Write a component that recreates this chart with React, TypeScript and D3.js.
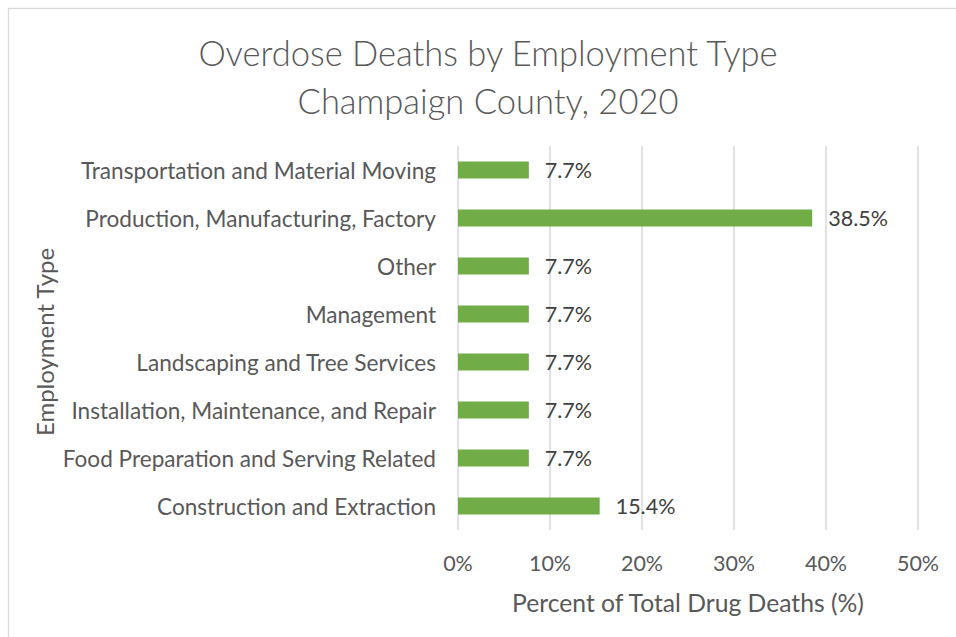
import React from "react";
import * as d3 from "d3";

const categories = [
  "Transportation and Material Moving",
  "Production, Manufacturing, Factory",
  "Other",
  "Management",
  "Landscaping and Tree Services",
  "Installation, Maintenance, and Repair",
  "Food Preparation and Serving Related",
  "Construction and Extraction",
];
const values = [7.7, 38.5, 7.7, 7.7, 7.7, 7.7, 7.7, 15.4];
const xTicks = [0, 10, 20, 30, 40, 50];
const titleLines = ["Overdose Deaths by Employment Type", "Champaign County, 2020"];

const W = 956;
const H = 637;
const FONT = "Lato, Carlito, 'Open Sans', sans-serif";

export default function App() {
  const x = d3.scaleLinear().domain([0, 50]).range([458, 918]);
  const y = d3
    .scaleBand<string>()
    .domain(categories)
    .range([146, 530])
    .paddingInner(0.646)
    .paddingOuter(0.323);

  return (
    <svg
      width={W}
      height={H}
      style={{ position: "absolute", left: 0, top: 0, background: "#fff" }}
      fontFamily={FONT}
    >
      <rect x={8.5} y={8.5} width={W + 20} height={H + 20} fill="#fff" stroke="#D9D9D9" strokeWidth={1.3} />
      {titleLines.map((t, i) => (
        <text
          key={i}
          x={488}
          y={52 + i * 48}
          textAnchor="middle"
          dominantBaseline="central"
          fontSize={34.5}
          fontWeight={300}
          fill="#595959"
        >
          {t}
        </text>
      ))}
      {xTicks.map((t) => (
        <line key={t} x1={x(t)} x2={x(t)} y1={146} y2={530} stroke="#D9D9D9" strokeWidth={1.5} />
      ))}
      {categories.map((c, i) => (
        <g key={c}>
          <rect
            x={x(0)}
            y={y(c)!}
            width={x(values[i]) - x(0)}
            height={y.bandwidth()}
            fill="#70AD47"
          />
          <text
            x={436}
            y={y(c)! + y.bandwidth() / 2}
            textAnchor="end"
            dominantBaseline="central"
            fontSize={22.6}
            fill="#595959"
          >
            {c}
          </text>
          <text
            x={x(values[i]) + 16}
            y={y(c)! + y.bandwidth() / 2}
            dominantBaseline="central"
            fontSize={21.5}
            fill="#404040"
          >
            {values[i].toFixed(1) + "%"}
          </text>
        </g>
      ))}
      {xTicks.map((t) => (
        <text
          key={"l" + t}
          x={x(t)}
          y={563}
          textAnchor="middle"
          dominantBaseline="central"
          fontSize={21.5}
          fill="#595959"
        >
          {t + "%"}
        </text>
      ))}
      <text
        x={688}
        y={602}
        textAnchor="middle"
        dominantBaseline="central"
        fontSize={24.7}
        fill="#595959"
      >
        Percent of Total Drug Deaths (%)
      </text>
      <text
        transform={`translate(44,342) rotate(-90)`}
        textAnchor="middle"
        dominantBaseline="central"
        fontSize={24}
        fill="#595959"
      >
        Employment Type
      </text>
    </svg>
  );
}
